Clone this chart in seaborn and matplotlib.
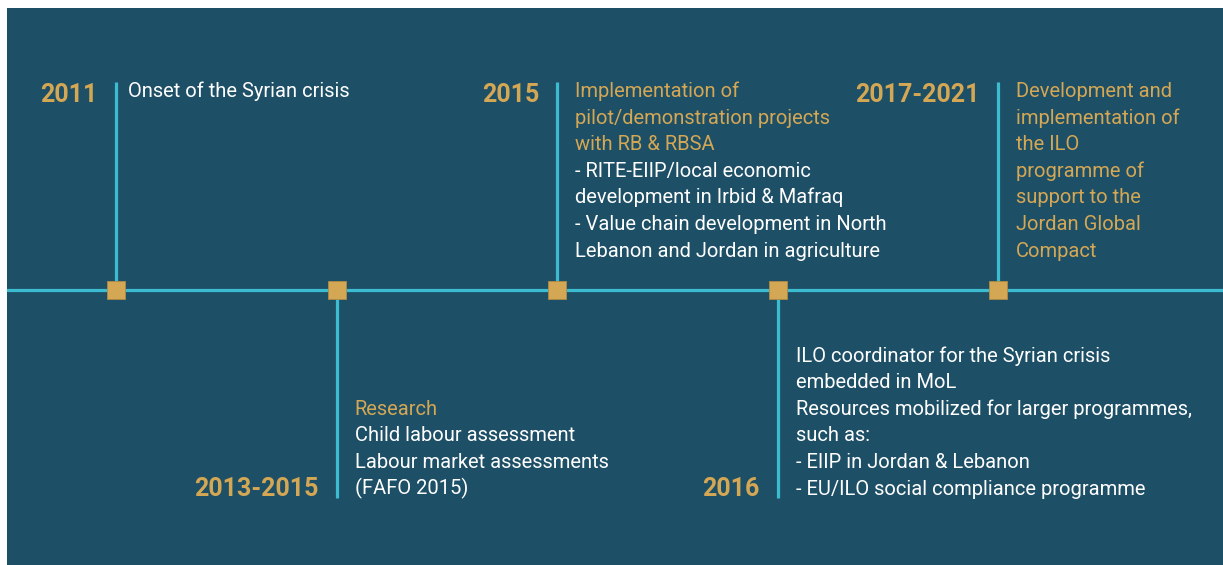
import matplotlib.pyplot as plt
import matplotlib.transforms as mtransforms
import seaborn as sns
import pandas as pd

# timeline content
years = ["2011", "2013-2015", "2015", "2016", "2017-2021"]
side = [1, -1, 1, -1, 1]  # 1 = above the line, -1 = below
gold_lines = [
    [],
    ["Research"],
    ["Implementation of", "pilot/demonstration projects", "with RB & RBSA"],
    [],
    ["Development and", "implementation of", "the ILO", "programme of",
     "support to the", "Jordan Global", "Compact"],
]
white_lines = [
    ["Onset of the Syrian crisis"],
    ["Child labour assessment", "Labour market assessments", "(FAFO 2015)"],
    ["- RITE-EIIP/local economic", "development in Irbid & Mafraq",
     "- Value chain development in North", "Lebanon and Jordan in agriculture"],
    ["ILO coordinator for the Syrian crisis", "embedded in MoL",
     "Resources mobilized for larger programmes,", "such as:",
     "- EIIP in Jordan & Lebanon", "- EU/ILO social compliance programme"],
    [],
]

BG = "#1D4F66"
CYAN = "#3CBCD0"
GOLD = "#D4A755"
WHITE = "#FFFFFF"

sns.set_style("white")
plt.rcParams["font.family"] = ["Roboto", "DejaVu Sans"]

fig = plt.figure(figsize=(12.23, 5.65), dpi=100)
ax = fig.add_axes([7 / 1223, 0, 1216 / 1223, 557 / 565])
ax.set_facecolor(BG)

df = pd.DataFrame({"pos": range(len(years)), "y": 0})

# main axis line and stems
ax.axhline(0, color=CYAN, lw=2.3, zorder=1)
for i, s in enumerate(side):
    ax.vlines(i, 0, s, color=CYAN, lw=2.3, zorder=1)

sns.scatterplot(data=df, x="pos", y="y", marker="s", s=175, color=GOLD,
                edgecolor="#B08A45", linewidth=0.6, zorder=3, ax=ax)

fs = 14.5
lh = 19.15  # line height in points


def put(x, y, txt, dx, dy, **kw):
    tr = mtransforms.offset_copy(ax.transData, fig=fig, x=dx, y=dy, units="points")
    ax.text(x, y, txt, transform=tr, va="baseline", **kw)


for i, (yr, s) in enumerate(zip(years, side)):
    lines = [(t, GOLD) for t in gold_lines[i]] + [(t, WHITE) for t in white_lines[i]]
    dx = 13 if i else 8.5
    if s > 0:
        put(i, 1.0, yr, -13, -14.4, color=GOLD, fontsize=18, fontweight="bold", ha="right")
        for k, (t, c) in enumerate(lines):
            put(i, 1.0, t, dx, -10.8 - k * lh, color=c, fontsize=fs, ha="left")
    else:
        put(i, -1.0, yr, -13, 1.5, color=GOLD, fontsize=18, fontweight="bold", ha="right")
        n = len(lines)
        for k, (t, c) in enumerate(lines):
            put(i, -1.0, t, dx, 2.5 + (n - 1 - k) * lh, color=c, fontsize=fs, ha="left")

ax.set_xlim(-109 / 220.5, 1216 / 220.5 - 109 / 220.5)
ax.set_ylim(-275 / 208, 282 / 208)
ax.set_xlabel("")
ax.set_ylabel("")
ax.set_xticks([])
ax.set_yticks([])
for sp in ax.spines.values():
    sp.set_visible(False)

fig.savefig("out.png", dpi=100, facecolor="white")
